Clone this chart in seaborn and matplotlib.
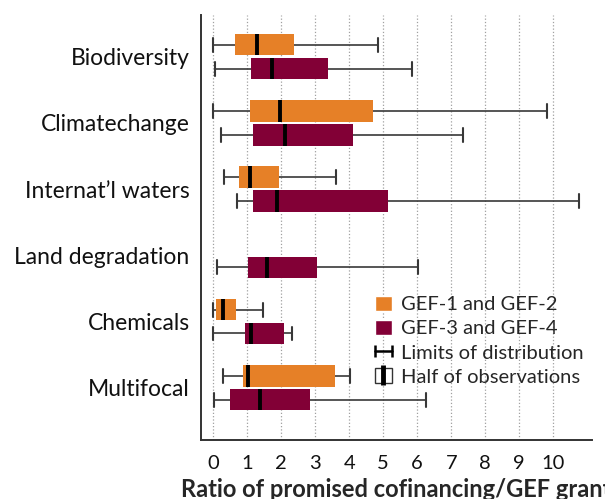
import matplotlib

matplotlib.use("Agg")
import matplotlib.pyplot as plt
from matplotlib.colors import to_hex
from matplotlib.patches import Patch
from matplotlib.lines import Line2D
from matplotlib.legend_handler import HandlerLine2D
import seaborn as sns
import pandas as pd

areas = [
    "Biodiversity",
    "Climatechange",
    "Internat\u2019l waters",
    "Land degradation",
    "Chemicals",
    "Multifocal",
]
periods = ["GEF-1 and GEF-2", "GEF-3 and GEF-4"]

# low limit, first quartile, median, third quartile, high limit
gef12 = [
    [0.00, 0.64, 1.29, 2.37, 4.85],
    [0.00, 1.08, 1.96, 4.70, 9.81],
    [0.31, 0.75, 1.07, 1.93, 3.62],
    None,  # no GEF-1/2 data for land degradation
    [0.00, 0.08, 0.29, 0.66, 1.47],
    [0.29, 0.87, 1.04, 3.57, 4.02],
]
gef34 = [
    [0.07, 1.11, 1.73, 3.37, 5.85],
    [0.22, 1.17, 2.11, 4.11, 7.35],
    [0.69, 1.17, 1.88, 5.14, 10.75],
    [0.12, 1.03, 1.57, 3.04, 6.03],
    [0.00, 0.93, 1.10, 2.07, 2.32],
    [0.02, 0.49, 1.39, 2.86, 6.27],
]

colors = ["#E68027", "#820036"]
whisker_color = "#383838"
font = ["Lato", "DejaVu Sans"]

# five points per group -> quartiles come out exactly, whiskers span min..max
rows = []
for period, summaries in zip(periods, [gef12, gef34]):
    for area, five in zip(areas, summaries):
        if five is None:
            continue
        for v in five:
            rows.append({"area": area, "period": period, "ratio": v})
df = pd.DataFrame(rows)

sns.set_style("white")
plt.rcParams["font.family"] = font

fig = plt.figure(figsize=(6.05, 4.99), dpi=100)
ax = fig.add_axes([0.332, 0.118, 0.646, 0.852])

sns.boxplot(
    data=df,
    x="ratio",
    y="area",
    hue="period",
    order=areas,
    hue_order=periods,
    palette=colors,
    saturation=1,
    whis=(0, 100),
    width=0.72,
    gap=0.1,
    dodge=True,
    linecolor=whisker_color,
    boxprops=dict(linewidth=0),
    whiskerprops=dict(linewidth=1.2, color=whisker_color),
    capprops=dict(linewidth=1.5, color=whisker_color),
    medianprops=dict(color="black", linewidth=2.8),
    legend=False,
    ax=ax,
)

# taller whisker caps, as in the original
for line in ax.lines:
    xs, ys = line.get_xdata(), line.get_ydata()
    if len(xs) == 2 and xs[0] == xs[1] and to_hex(line.get_color()) == whisker_color.lower():
        mid = (ys[0] + ys[1]) / 2
        line.set_ydata([mid - 0.105, mid + 0.105])

ax.set_xlim(-0.36, 11.13)
ax.set_ylim(5.79, -0.63)
ax.set_xticks(range(11))
ax.xaxis.grid(True, linestyle=":", color="#a0a0a0", linewidth=0.9)
ax.set_axisbelow(True)
ax.tick_params(axis="both", length=0, colors="#111111")
ax.tick_params(axis="x", pad=11, labelsize=14.5)
ax.tick_params(axis="y", pad=8, labelsize=16.5)

for side in ["top", "right"]:
    ax.spines[side].set_visible(False)
for side in ["left", "bottom"]:
    ax.spines[side].set_color("#333333")
    ax.spines[side].set_linewidth(1.4)

ax.set_ylabel("")
ax.set_xlabel(
    "Ratio of promised cofinancing/GEF grant",
    fontsize=17,
    fontweight="bold",
    labelpad=4,
)

# legend: the two periods plus a key for whiskers and boxes
limits = Line2D([], [], color="black", marker="|", markersize=9, markeredgewidth=1.8, linewidth=1.8)
half_box = Patch(facecolor="white", edgecolor="#333333", linewidth=1.0)
half_mid = Line2D([], [], color="black", marker="|", linestyle="none", markersize=15, markeredgewidth=3.5)
handles = [
    Patch(facecolor=colors[0]),
    Patch(facecolor=colors[1]),
    limits,
    (half_box, half_mid),
]
labels = periods + ["Limits of distribution", "Half of observations"]
ax.legend(
    handles,
    labels,
    loc="upper left",
    bbox_to_anchor=(0.445, 0.34),
    frameon=False,
    fontsize=14.5,
    handlelength=0.85,
    handleheight=0.8,
    handletextpad=0.45,
    labelspacing=0.32,
    borderpad=0,
    borderaxespad=0,
    handler_map={
        limits: HandlerLine2D(numpoints=2, marker_pad=0),
        half_mid: HandlerLine2D(numpoints=1),
    },
)

fig.savefig("out.png", dpi=100)
